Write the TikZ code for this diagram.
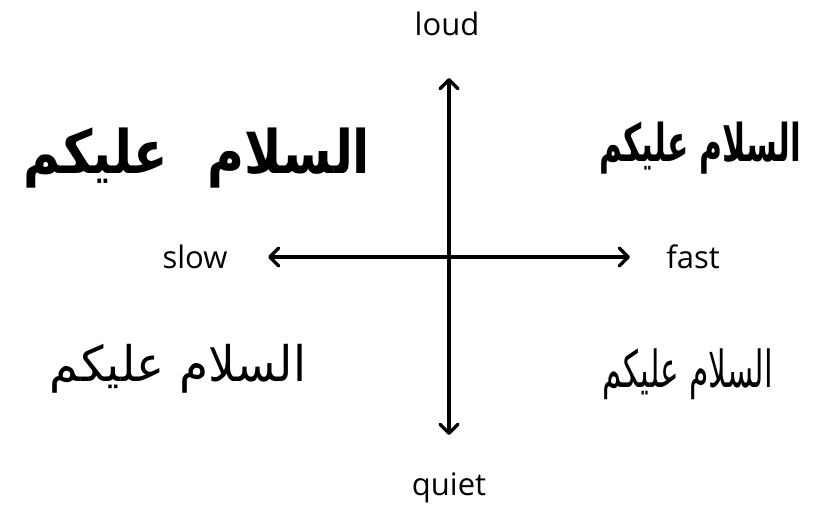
\documentclass[tikz,border=0pt]{standalone}
\usepackage{fontspec}
\setmainfont{Open Sans}
\TeXXeTstate=1
\newfontfamily\arabicbold[Script=Arabic]{DejaVu Sans Bold}
\newfontfamily\arabicreg[Script=Arabic]{DejaVu Sans}
\newfontfamily\arabiccondbold[Script=Arabic]{DejaVu Sans Condensed Bold}
\newfontfamily\arabiccond[Script=Arabic]{DejaVu Sans Condensed}
\usetikzlibrary{arrows.meta}
\begin{document}
\begin{tikzpicture}[x=1pt,y=-1pt,
  axis/.style={line width=3.4pt,{Straight Barb[round,length=9pt,width=18pt]}-{Straight Barb[round,length=9pt,width=18pt]}},
  lbl/.style={font=\fontsize{31}{36}\selectfont,inner sep=0pt}]
\useasboundingbox (0,0) rectangle (828,506);
\fill[white] (0,0) rectangle (828,506);
\coordinate (top) at (449,78);
\coordinate (bot) at (449,435);
\coordinate (lft) at (268,257);
\coordinate (rgt) at (630,257);
\draw[axis] (bot) -- (top);
\draw[axis] (lft) -- (rgt);
\node[lbl] (loud) at (447,24) {loud};
\node[lbl] (quiet) at (449,488) {quiet};
\node[lbl] (slow) at (195,257) {slow};
\node[lbl] (fast) at (693,257) {fast};
\node[inner sep=0pt] (tl) at (197,158) {\scalebox{0.84}[1]{\fontsize{60}{64}\selectfont\arabicbold\beginR السلام\hspace{47pt}عليكم\endR}};
\node[inner sep=0pt] (tr) at (700,148) {\scalebox{0.67}[1]{\fontsize{52}{56}\selectfont\arabiccondbold\beginR السلام عليكم\endR}};
\node[inner sep=0pt] (bl) at (178,369) {\scalebox{0.96}[1]{\fontsize{49}{52}\selectfont\arabicreg\beginR السلام عليكم\endR}};
\node[inner sep=0pt] (br) at (688,374) {\scalebox{0.68}[1]{\fontsize{51}{54}\selectfont\arabiccond\beginR السلام عليكم\endR}};
\end{tikzpicture}
\end{document}
